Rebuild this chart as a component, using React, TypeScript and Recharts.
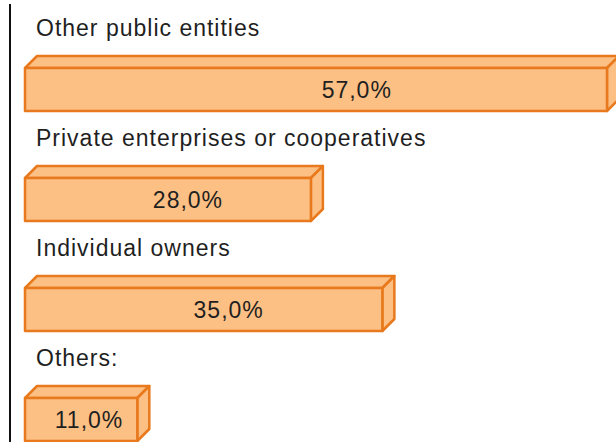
import { BarChart, Bar, XAxis, YAxis, LabelList } from 'recharts'

// Ownership categories and their shares
const categories = ['Other public entities', 'Private enterprises or cooperatives', 'Individual owners', 'Others:']
const shares = [57, 28, 35, 11]
const shareLabels = ['57,0%', '28,0%', '35,0%', '11,0%']

const data = categories.map((name, i) => ({ name, share: shares[i], label: shareLabels[i] }))

const FILL = '#FCBF84'
const STROKE = '#E8791C'
const DEPTH = 12 // 3D offset of the box
const DROP = 32 // push the box to the lower part of its band, the name sits above
const FONT = '"Liberation Sans", Arial, sans-serif'

function Box3D({ x, y, width, height }: any) {
  const top = y + DROP
  const right = x + width
  const bottom = top + height
  return (
    <g stroke={STROKE} strokeWidth={2.5} strokeLinejoin="round" fill={FILL}>
      <polygon points={`${x},${top} ${x + DEPTH},${top - DEPTH} ${right + DEPTH},${top - DEPTH} ${right},${top}`} />
      <polygon points={`${right},${top} ${right + DEPTH},${top - DEPTH} ${right + DEPTH},${bottom - DEPTH} ${right},${bottom}`} />
      <rect x={x} y={top} width={width} height={height} />
    </g>
  )
}

function readBox(p: any) {
  const vb = p.viewBox && p.viewBox.width != null ? p.viewBox : p
  return { x: Number(vb.x), y: Number(vb.y), width: Number(vb.width), height: Number(vb.height) }
}

// Category name above the box
function NameLabel(p: any) {
  const { x, y } = readBox(p)
  return (
    <text x={x + 11} y={y + DROP - DEPTH - 20} fill="#1f1f1f" fontSize={23} letterSpacing={1} fontFamily={FONT}>
      {p.value}
    </text>
  )
}

// Percentage inside the front face
function ValueLabel(p: any) {
  const { x, y, width, height } = readBox(p)
  return (
    <text
      x={x + width * 0.57}
      y={y + DROP + height / 2}
      fill="#1f1f1f"
      fontSize={23}
      letterSpacing={1}
      fontFamily={FONT}
      textAnchor="middle"
      dominantBaseline="central"
    >
      {p.value}
    </text>
  )
}

export default function App() {
  return (
    <div style={{ position: 'absolute', left: 0, top: 0, width: 616, height: 442, background: '#fff' }}>
      <div style={{ position: 'absolute', left: 9, top: 4, width: 2, height: 438, background: '#111' }} />
      <BarChart
        width={616}
        height={442}
        data={data}
        layout="vertical"
        margin={{ top: 2, right: 9, left: 25, bottom: 0 }}
        barSize={43}
      >
        <XAxis type="number" domain={[0, 57]} hide />
        <YAxis type="category" dataKey="name" hide />
        <Bar dataKey="share" shape={<Box3D />} isAnimationActive={false}>
          <LabelList dataKey="name" content={<NameLabel />} />
          <LabelList dataKey="label" content={<ValueLabel />} />
        </Bar>
      </BarChart>
    </div>
  )
}
